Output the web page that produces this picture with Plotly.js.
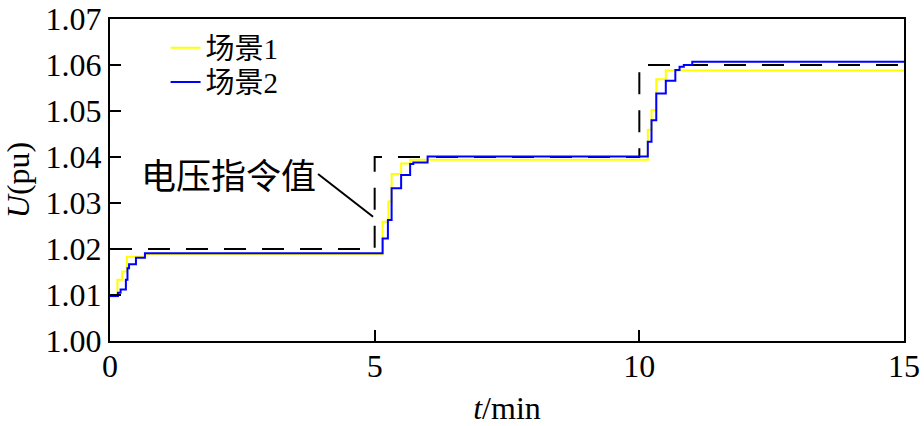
<!DOCTYPE html>
<html>
<head>
<meta charset="utf-8">
<script src="https://cdn.plot.ly/plotly-3.0.1.min.js"></script>
<style>
  html, body { margin: 0; padding: 0; background: #ffffff; }
  #chart { width: 924px; height: 426px; }
</style>
</head>
<body>
<div id="chart"></div>
<script>
(function () {
    'use strict';

    // Scenario 1 (yellow), step-wise voltage response
    const tScene1 = [0, 0.14, 0.23, 0.32, 0.67, 5.15, 5.26, 5.32, 5.50, 5.67, 10.16, 10.23, 10.32, 10.50, 15];
    const uScene1 = [1.0096, 1.0133, 1.0151, 1.0183, 1.0189, 1.0259, 1.0303, 1.0363, 1.0386, 1.0394,
                     1.0459, 1.0502, 1.0569, 1.0588, 1.0588];

    // Scenario 2 (blue)
    const tScene2 = [0, 0.15, 0.20, 0.30, 0.33, 0.36, 0.49, 0.66, 5.15, 5.25, 5.32, 5.50, 5.67, 5.73, 6.0,
                     10.16, 10.23, 10.32, 10.50, 10.68, 10.76, 10.84, 11.0, 15];
    const uScene2 = [1.0098, 1.0105, 1.0112, 1.0133, 1.0158, 1.0167, 1.0181, 1.0191, 1.0223, 1.0263, 1.0332,
                     1.0361, 1.0385, 1.0388, 1.0401, 1.0433, 1.0480, 1.0538, 1.0566, 1.0589, 1.0596, 1.0600,
                     1.0607, 1.0607];

    // Voltage command (dashed)
    const tCommand = [0, 5, 10, 15];
    const uCommand = [1.02, 1.04, 1.06, 1.06];

    const seriesNames = ['场景1', '场景2'];
    const xTicks = [0, 5, 10, 15];
    const yTicks = [1.00, 1.01, 1.02, 1.03, 1.04, 1.05, 1.06, 1.07];

    const FONT = '"Liberation Serif", "Times New Roman", "Noto Sans CJK SC", serif';

    const traces = [
        {
            x: tCommand, y: uCommand, type: 'scatter', mode: 'lines',
            line: { shape: 'hv', color: '#000000', width: 2, dash: '22px,16px' },
            showlegend: false, hoverinfo: 'skip'
        },
        {
            x: tScene1, y: uScene1, type: 'scatter', mode: 'lines', name: seriesNames[0],
            line: { shape: 'hv', color: '#ffff00', width: 2 },
            legend: 'legend'
        },
        {
            x: tScene2, y: uScene2, type: 'scatter', mode: 'lines', name: seriesNames[1],
            line: { shape: 'hv', color: '#0000ff', width: 2 },
            legend: 'legend2'
        }
    ];

    const tickFont = { family: FONT, size: 32, color: '#000000' };

    const axisCommon = {
        showgrid: false,
        zeroline: false,
        showline: true,
        linecolor: '#000000',
        linewidth: 2,
        mirror: true,
        ticks: 'inside',
        ticklen: 11,
        tickwidth: 2,
        tickcolor: '#000000',
        tickfont: tickFont
    };

    const legendCommon = {
        font: { family: FONT, size: 29, color: '#000000' },
        bgcolor: 'rgba(0,0,0,0)',
        borderwidth: 0,
        xanchor: 'left',
        yanchor: 'middle'
    };

    const layout = {
        width: 924,
        height: 426,
        paper_bgcolor: '#ffffff',
        plot_bgcolor: '#ffffff',
        font: { family: FONT, color: '#000000' },
        margin: { t: 19, r: 20, b: 85, l: 110 },
        xaxis: Object.assign({}, axisCommon, {
            range: [0, 15],
            tickvals: xTicks,
            ticktext: xTicks.map(String),
            ticklabelstandoff: -4,
            title: { text: '<i>t</i>/min', font: tickFont, standoff: 17 }
        }),
        yaxis: Object.assign({}, axisCommon, {
            range: [1.00, 1.07],
            tickvals: yTicks,
            ticktext: yTicks.map(v => v.toFixed(2)),
            title: { text: '<i>U</i>(pu)', font: tickFont, standoff: 8 }
        }),
        legend: Object.assign({}, legendCommon, { x: 0.07, y: 0.910 }),
        legend2: Object.assign({}, legendCommon, { x: 0.07, y: 0.804 }),
        annotations: [
            {
                x: 3.93, y: 1.0355, xref: 'x', yref: 'y',
                text: '电压指令值', showarrow: false,
                xanchor: 'right', yanchor: 'middle',
                font: { family: FONT, size: 35, color: '#000000' }
            }
        ],
        shapes: [
            {
                type: 'line', xref: 'x', yref: 'y',
                x0: 3.93, y0: 1.0363, x1: 4.97, y1: 1.0270,
                line: { color: '#000000', width: 2 }
            }
        ]
    };

    Plotly.newPlot('chart', traces, layout, { displayModeBar: false, responsive: false });
})();
</script>
</body>
</html>
